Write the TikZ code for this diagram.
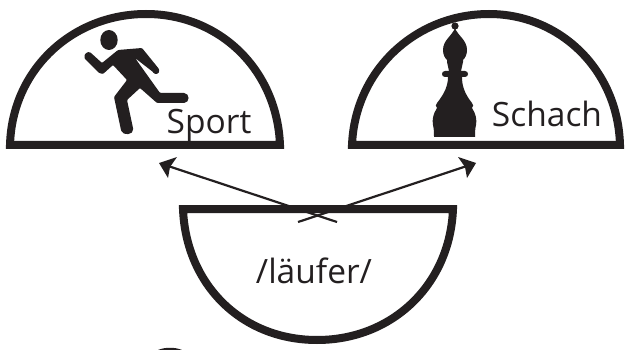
\documentclass[tikz,border=0pt]{standalone}
\usepackage{fontspec}
\setmainfont{Open Sans}
\definecolor{ink}{HTML}{231F20}
\tikzset{
  halfdome/.style={draw=ink,line width=8pt,miter limit=10,fill=white},
  pointer/.style={draw=ink,line width=2.2pt},
  tip/.style={fill=ink,draw=none},
  lbl/.style={text=ink,inner sep=0pt,font=\fontsize{33.5}{38}\selectfont},
}
\begin{document}
\begin{tikzpicture}[x=1pt,y=-1pt]
\useasboundingbox (0,0) rectangle (629,350);
% domes
\draw[halfdome] (10,145) .. controls (12,70) and (72,14) .. (146,14) .. controls (220,14) and (277,70) .. (280,145) -- cycle;
\draw[halfdome] (352,145) .. controls (355,70) and (416,14) .. (489,14) .. controls (560,14) and (618,70) .. (620,145) -- cycle;
\draw[halfdome] (183,209) -- (453,209) .. controls (450,285) and (392,340) .. (317,340) .. controls (242,340) and (186,285) .. (183,209) -- cycle;
% pictograms
\fill[ink] (109,40) ellipse (8.7pt and 10pt);
\fill[ink,rounded corners=1pt] (118,50) -- (142,48) -- (159,69) .. controls (160,74) and (155,75) .. (153,72) -- (135,58) -- (160,93) -- (183,93) .. controls (190,93) and (190,103) .. (183,103) -- (157,103) -- (140,88) -- (127,100) -- (133,128) .. controls (134,135) and (123,136) .. (121,130) -- (114,97) -- (127,80) -- (113,65) -- (103,74) -- (99,73) -- (85,59) .. controls (83,54) and (88,51) .. (91,53) -- (102,63) -- cycle;
\fill[ink] (455,26) circle (3.6pt);
\fill[ink] (455,28) .. controls (458,36) and (467,40) .. (467,50) .. controls (467,55) and (465,58) .. (463,60) -- (463,62) -- (461,71) -- (465,71) .. controls (469,71) and (469,77) .. (465,77) -- (462,77) .. controls (462,85) and (464,93) .. (472,103) .. controls (474,105) and (473,106) .. (472,108) .. controls (476,114) and (477,120) .. (476,125) .. controls (475,129) and (475,133) .. (475,137) -- (434,137) .. controls (434,133) and (434,129) .. (433,125) .. controls (432,120) and (433,114) .. (437,108) .. controls (436,106) and (435,105) .. (437,103) .. controls (445,93) and (448,85) .. (448,77) -- (445,77) .. controls (441,77) and (441,71) .. (445,71) -- (449,71) -- (447,62) -- (447,60) .. controls (445,58) and (443,55) .. (443,50) .. controls (443,40) and (452,36) .. (455,28) -- cycle;
% stray arc at the lower edge
\fill[ink] (158,350) .. controls (165,347) and (175,347) .. (182,350) -- cycle;
% labels
\node[lbl,anchor=base] (sport) at (209,134) {Sport};
\node[lbl,anchor=base] (schach) at (547,127) {Schach};
\node[lbl,anchor=base] (laeufer) at (314,283) {/läufer/};
% connectors
\coordinate (crossa) at (337,222);
\coordinate (crossb) at (298,222);
\coordinate (ta) at (165,165);
\coordinate (tb) at (470,165);
\draw[pointer] (crossa) -- (ta);
\draw[pointer] (crossb) -- (tb);
\fill[tip] (159,163) -- (177,157) -- (170,167) -- (168,178) -- cycle;
\fill[tip] (476,163) -- (458,157) -- (465,167) -- (467,178) -- cycle;
\end{tikzpicture}
\end{document}
